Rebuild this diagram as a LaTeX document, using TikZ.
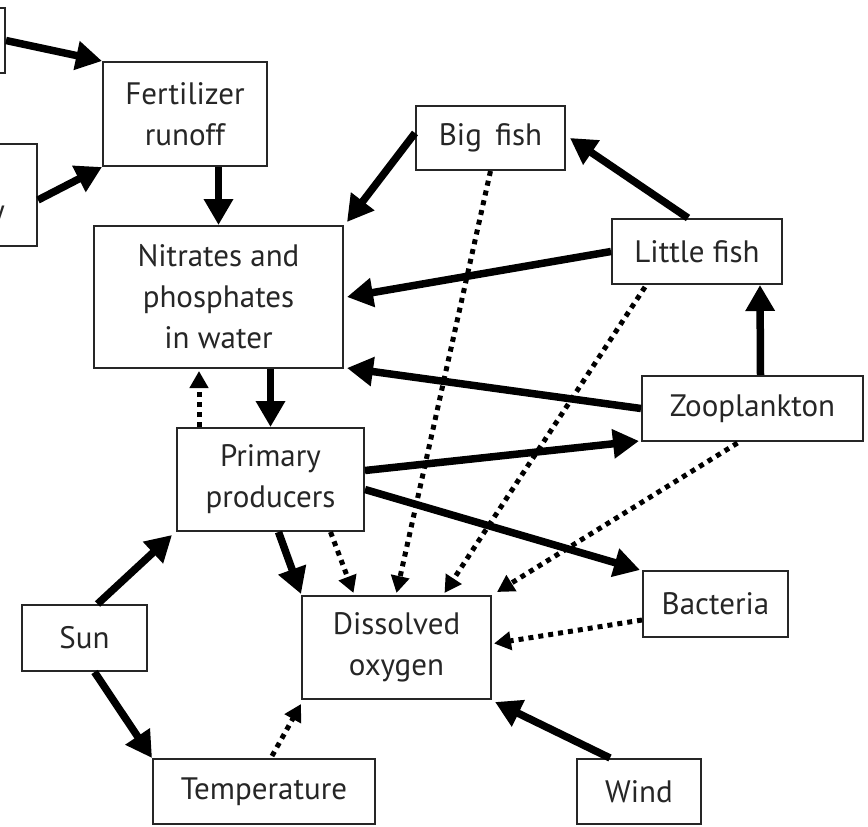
\documentclass[tikz,border=0pt]{standalone}
\usepackage{fontspec}
\setmainfont{PT Sans}
\usetikzlibrary{arrows.meta,calc}
\begin{document}
\begin{tikzpicture}[x=1pt,y=-1pt,
  box/.style={draw=black!85, line width=2pt, rectangle, inner sep=0pt,
    align=center, font=\fontsize{31}{41}\selectfont, text=black!85},
  label/.style={inner sep=0pt, font=\fontsize{31}{41}\selectfont, text=black!85},
  flow/.style={line width=7.5pt, -{Triangle[length=26pt,width=28pt]}},
  link/.style={line width=5pt, dash pattern=on 5pt off 5pt,
    -{Triangle[length=17pt,width=18pt]}}]
\path[use as bounding box, clip] (0,0) rectangle (868,827);
\fill[white] (0,0) rectangle (868,827);

% boxes
\node[box, minimum width=120pt, minimum height=65pt]  (src1)   at (-55,40.5)   {};
\node[box, minimum width=117pt, minimum height=102pt] (src2)   at (-21.5,195)  {};
\node[label, anchor=base east] (src2text) at (5,221) {y};
\node[box, minimum width=164pt, minimum height=104pt] (fert)   at (185,114)    {Fertilizer\\runoff};
\node[box, minimum width=249pt, minimum height=142pt] (nit)    at (218.5,297)  {Nitrates and\\phosphates\\in water};
\node[box, minimum width=149pt, minimum height=64pt]  (big)    at (490.5,138)  {Big\, fish};
\node[box, minimum width=170pt, minimum height=65pt]  (little) at (697,251.5)  {Little fish};
\node[box, minimum width=221pt, minimum height=65pt]  (zoo)    at (752.5,408.5){Zooplankton};
\node[box, minimum width=187pt, minimum height=103pt] (prim)   at (270.5,479.5){Primary\\producers};
\node[box, minimum width=145pt, minimum height=66pt]  (bact)   at (715.5,604)  {Bacteria};
\node[box, minimum width=189pt, minimum height=103pt] (diss)   at (396.5,647.5){Dissolved\\oxygen};
\node[box, minimum width=125pt, minimum height=66pt]  (sun)    at (84.5,638)   {Sun};
\node[box, minimum width=222pt, minimum height=65pt]  (temp)   at (264,791.5)  {Temperature};
\node[box, minimum width=124pt, minimum height=65pt]  (wind)   at (639,791.5)  {Wind};

% solid influences
\draw[flow] (src1.east) -- (fert.north west);
\draw[flow] ($(src2.east)+(0,5)$) -- (fert.south west);
\draw[flow] (fert.south -| nit.north) -- (nit.north);
\draw[flow] ($(big.west)+(0,-5)$) -- ($(nit.north east)+(3,-3)$);
\draw[flow] ($(little.north)+(-9,0)$) -- ($(big.east)+(4,0)$);
\draw[flow] (little.west) -- ($(nit.east)+(3,0)$);
\draw[flow] ($(zoo.north)+(8,0)$) -- ($(little.south)+(63,0)$);
\draw[flow] (zoo.west) -- ($(nit.south east)+(3,-1)$);
\draw[flow] (nit.south -| prim.north) -- (prim.north);
\draw[flow] ($(prim.east)+(0,-9)$) -- ($(zoo.south west)+(-2,-1)$);
\draw[flow] ($(prim.east)+(0,10)$) -- ($(bact.north west)+(-2,0)$);
\draw[flow] ($(prim.south)+(8,0)$) -- ($(diss.north west)+(0,-1)$);
\draw[flow] ($(sun.north)+(13,0)$) -- ($(prim.south west)+(-4,3)$);
\draw[flow] ($(sun.south)+(10,0)$) -- (temp.north west);
\draw[flow] ($(wind.north)+(-29,0)$) -- ($(diss.south east)+(3,2)$);

% dotted influences
\draw[link] ($(prim.north west)+(23,0)$) -- ($(nit.south west)+(106,2)$);
\draw[link] ($(prim.south)+(60,0)$) -- ($(diss.north)+(-43,-2)$);
\draw[link] (big.south) -- ($(diss.north)+(0,-2)$);
\draw[link] ($(little.south)+(-52,2)$) -- ($(diss.north)+(48,-2)$);
\draw[link] ($(zoo.south)+(-15,1)$) -- ($(diss.north east)+(5,-3)$);
\draw[link] ($(bact.west)+(0,16)$) -- ($(diss.east)+(2,-4)$);
\draw[link] ($(temp.north)+(8,-2)$) -- ($(diss.south west)+(0,4)$);
\end{tikzpicture}
\end{document}
